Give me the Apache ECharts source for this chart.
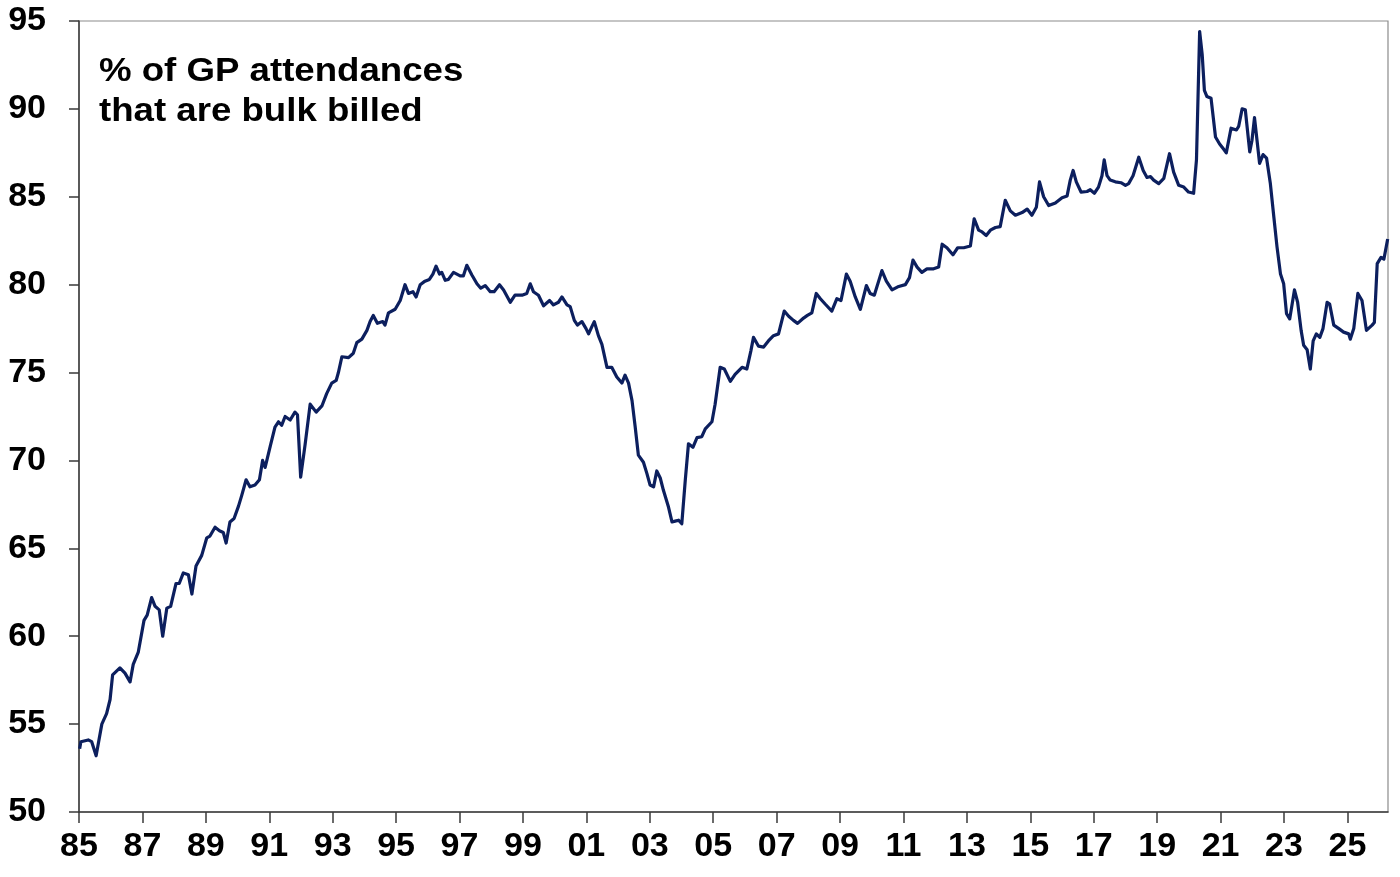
<!DOCTYPE html>
<html>
<head>
<meta charset="utf-8">
<title>Bulk billing rate</title>
<script src="https://cdn.jsdelivr.net/npm/echarts@6.0.0/dist/echarts.min.js"></script>
<style>
  html, body { margin: 0; padding: 0; background: #fff; }
  #main { width: 1400px; height: 877px; }
</style>
</head>
<body>
<div id="main"></div>
<script>
// dates as decimal years
var years = [
  1985.02,1985.06,1985.29,1985.40,1985.54,1985.72,1985.87,1985.98,
  1986.06,1986.29,1986.45,1986.61,1986.71,1986.87,
  1987.05,1987.15,1987.29,1987.40,1987.53,1987.64,1987.77,1987.89,
  1988.06,1988.16,1988.29,1988.45,1988.56,1988.69,1988.87,
  1989.03,1989.13,1989.29,1989.43,1989.55,1989.64,1989.76,1989.89,
  1990.03,1990.13,1990.27,1990.39,1990.55,1990.69,1990.79,1990.87,
  1991.03,1991.18,1991.29,1991.39,1991.50,1991.66,1991.81,1991.89,1991.99,
  1992.13,1992.29,1992.48,1992.66,1992.81,1992.97,
  1993.11,1993.18,1993.29,1993.50,1993.65,1993.76,1993.92,
  1994.08,1994.18,1994.28,1994.41,1994.58,1994.65,1994.76,1994.97,
  1995.13,1995.28,1995.39,1995.53,1995.63,1995.76,1995.91,
  1996.05,1996.16,1996.26,1996.37,1996.44,1996.55,1996.65,1996.81,
  1997.02,1997.12,1997.23,1997.39,1997.55,1997.67,1997.81,1997.97,
  1998.09,1998.26,1998.39,1998.60,1998.75,1998.97,
  1999.12,1999.23,1999.33,1999.49,1999.65,1999.84,1999.96,
  2000.12,2000.23,2000.39,2000.49,2000.62,2000.72,2000.86,2000.99,
  2001.07,2001.17,2001.25,2001.38,2001.49,2001.65,2001.80,2001.96,
  2002.12,2002.22,2002.33,2002.44,2002.54,2002.64,2002.80,2002.91,
  2003.01,2003.12,2003.22,2003.33,2003.43,2003.59,2003.70,2003.80,2003.91,
  2004.01,2004.12,2004.22,2004.36,2004.49,2004.64,2004.75,2004.96,
  2005.06,2005.22,2005.35,2005.54,2005.69,2005.91,
  2006.06,2006.19,2006.27,2006.43,2006.59,2006.74,2006.90,
  2007.06,2007.24,2007.38,2007.53,2007.66,2007.85,2007.97,
  2008.11,2008.25,2008.38,2008.53,2008.74,2008.90,
  2009.03,2009.20,2009.32,2009.48,2009.64,2009.83,2009.95,
  2010.08,2010.32,2010.46,2010.64,2010.85,
  2011.06,2011.19,2011.30,2011.43,2011.58,2011.74,2011.95,
  2012.11,2012.22,2012.37,2012.56,2012.71,2012.90,
  2013.11,2013.23,2013.37,2013.48,2013.61,2013.74,2013.90,
  2014.05,2014.21,2014.37,2014.53,2014.74,2014.90,
  2015.05,2015.19,2015.29,2015.42,2015.58,2015.79,
  2016.00,2016.16,2016.26,2016.35,2016.45,2016.60,2016.79,2016.89,
  2017.02,2017.15,2017.26,2017.33,2017.42,2017.52,2017.68,2017.86,
  2018.00,2018.10,2018.24,2018.42,2018.56,2018.68,2018.79,2018.89,
  2019.05,2019.21,2019.39,2019.52,2019.68,2019.84,2019.99,
  2020.15,2020.24,2020.34,2020.42,2020.49,2020.57,2020.70,2020.84,2020.97,
  2021.10,2021.18,2021.33,2021.50,2021.57,2021.68,2021.78,2021.92,2021.99,
  2022.07,2022.15,2022.23,2022.34,2022.45,2022.57,2022.68,2022.78,2022.89,2022.99,
  2023.08,2023.18,2023.33,2023.43,2023.54,2023.62,2023.73,2023.83,2023.92,
  2024.02,2024.13,2024.23,2024.36,2024.44,2024.57,2024.73,2024.88,
  2025.04,2025.09,2025.20,2025.33,2025.46,2025.60,2025.78,2025.85,2025.94,
  2026.06,2026.15,2026.27
];

// % of GP attendances bulk billed
var bulkBilled = [
  53.6,54.0,54.1,54.0,53.2,55.0,55.6,56.4,
  57.8,58.2,57.9,57.4,58.4,59.1,
  60.9,61.2,62.2,61.7,61.5,60.0,61.6,61.7,
  63.0,63.0,63.6,63.5,62.4,64.0,64.6,
  65.6,65.7,66.2,66.0,65.9,65.3,66.5,66.7,
  67.4,68.0,68.9,68.5,68.6,68.9,70.0,69.6,
  70.8,71.9,72.2,72.0,72.5,72.3,72.75,72.6,69.05,
  70.9,73.2,72.75,73.1,73.8,74.4,
  74.55,75.0,75.9,75.85,76.1,76.7,76.9,
  77.4,77.9,78.25,77.8,77.9,77.7,78.4,78.6,
  79.1,80.0,79.5,79.6,79.3,80.0,80.2,
  80.3,80.6,81.05,80.6,80.7,80.25,80.3,80.7,
  80.5,80.5,81.1,80.55,80.05,79.8,79.95,79.6,
  79.6,80.0,79.7,79.0,79.4,79.4,
  79.5,80.05,79.6,79.4,78.8,79.1,78.85,
  79.0,79.3,78.85,78.75,77.97,77.7,77.9,77.5,
  77.2,77.6,77.9,77.1,76.6,75.3,75.3,74.75,
  74.4,74.85,74.4,73.4,71.9,70.3,69.9,69.25,
  68.6,68.5,69.4,69.0,68.3,67.35,66.5,66.55,66.6,
  66.4,68.9,70.95,70.75,71.3,71.35,71.8,72.2,
  73.2,75.3,75.2,74.5,74.9,75.3,
  75.2,76.25,77.0,76.5,76.45,76.8,77.1,
  77.2,78.5,78.2,77.97,77.8,78.1,78.25,
  78.4,79.5,79.2,78.9,78.5,79.2,
  79.1,80.6,80.2,79.3,78.6,79.95,79.5,
  79.4,80.8,80.2,79.7,79.9,
  80.0,80.4,81.4,81.0,80.7,80.9,80.9,
  81.0,82.3,82.1,81.7,82.1,82.1,
  82.2,83.75,83.1,83.0,82.8,83.1,83.25,
  83.3,84.8,84.2,83.95,84.1,84.3,
  83.95,84.4,85.85,85.0,84.5,84.65,
  84.95,85.05,85.95,86.5,85.85,85.27,85.3,85.4,
  85.2,85.55,86.2,87.1,86.2,85.95,85.85,85.8,
  85.65,85.75,86.2,87.25,86.5,86.1,86.15,85.95,
  85.75,86.05,87.45,86.4,85.65,85.55,85.27,
  85.2,87.1,94.4,93.1,91.05,90.7,90.6,88.4,88.0,
  87.7,87.5,88.9,88.8,89.0,90.0,89.95,87.55,88.2,
  89.5,88.2,86.9,87.4,87.2,85.75,83.85,82.15,80.6,80.05,
  78.35,78.05,79.7,79.0,77.4,76.55,76.3,75.2,76.8,
  77.2,77.0,77.5,79.0,78.9,77.7,77.5,77.3,
  77.2,76.9,77.5,79.5,79.1,77.4,77.7,77.85,81.2,
  81.55,81.45,82.6
];

var startYear = 1985;
var endYear = 2026.28;
// x tick positions, years since 1985
var xTicks = [0,2,4,6,8,10,12,14,16,18,20,22,24,26,28,30,32,34,36,38,40];
var yTicks = [50,55,60,65,70,75,80,85,90,95];
var titleLines = ['% of GP attendances', 'that are bulk billed'];

var seriesData = years.map(function (y, i) {
  return [y - startYear, bulkBilled[i]];
});

var labelFont = {
  fontFamily: '"Liberation Sans", Arial, sans-serif',
  fontWeight: 'bold',
  fontSize: 34,
  color: '#000'
};

var myChart = echarts.init(document.getElementById('main'));
myChart.setOption({
  animation: false,
  backgroundColor: '#fff',
  grid: {
    left: 79, right: 12, top: 21, bottom: 65,
    outerBoundsMode: 'none',
    show: true,
    borderColor: '#8c8c8c',
    borderWidth: 1.2
  },
  xAxis: {
    type: 'value',
    min: 0,
    max: endYear - startYear,
    interval: 2,
    axisLine: { show: true, onZero: false, lineStyle: { color: '#3a3a3a', width: 1.5 } },
    axisTick: { show: true, inside: false, length: 11, customValues: xTicks,
      lineStyle: { color: '#3a3a3a', width: 1.5 } },
    axisLabel: Object.assign({
      margin: 18,
      customValues: xTicks,
      formatter: function (v) {
        var yy = Math.round(startYear + v) % 100;
        return (yy < 10 ? '0' : '') + yy;
      }
    }, labelFont),
    splitLine: { show: false }
  },
  yAxis: {
    type: 'value',
    min: 50,
    max: 95,
    interval: 5,
    axisLine: { show: true, lineStyle: { color: '#3a3a3a', width: 1.5 } },
    axisTick: { show: true, inside: false, length: 10, customValues: yTicks,
      lineStyle: { color: '#3a3a3a', width: 1.5 } },
    axisLabel: Object.assign({ margin: 33, customValues: yTicks }, labelFont),
    splitLine: { show: false }
  },
  graphic: [
    {
      type: 'text', x: 99, y: 72, scaleX: 1.11,
      style: {
        text: titleLines[0],
        font: 'bold 33px "Liberation Sans", Arial, sans-serif',
        fill: '#000',
        textVerticalAlign: 'middle'
      }
    },
    {
      type: 'text', x: 99, y: 112, scaleX: 1.11,
      style: {
        text: titleLines[1],
        font: 'bold 33px "Liberation Sans", Arial, sans-serif',
        fill: '#000',
        textVerticalAlign: 'middle'
      }
    }
  ],
  series: [{
    name: 'Bulk billed',
    type: 'line',
    data: seriesData,
    showSymbol: false,
    symbol: 'none',
    smooth: false,
    lineStyle: { color: '#0c1f5e', width: 3.2, join: 'round' }
  }]
});
</script>
</body>
</html>
